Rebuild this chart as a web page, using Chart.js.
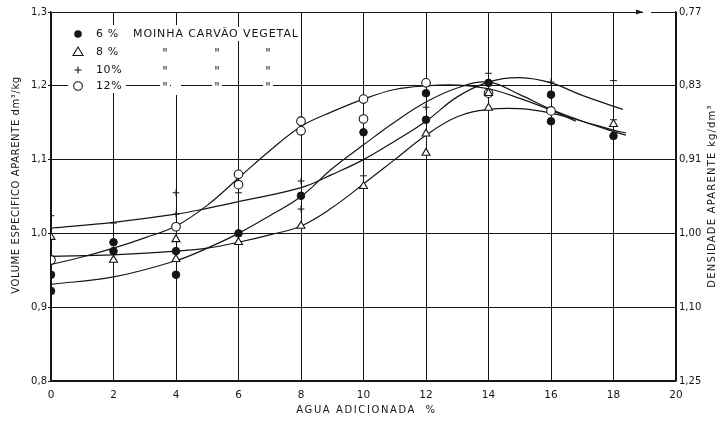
<!DOCTYPE html>
<html><head><meta charset="utf-8">
<script src="https://cdn.jsdelivr.net/npm/chart.js@4.4.1/dist/chart.umd.min.js"></script>
<style>html,body{margin:0;padding:0;background:#fff}#wrap{width:722px;height:421px}</style>
</head><body><div id="wrap"><canvas id="c" width="722" height="421"></canvas></div>
<script>
// ---- data ----
const xTicks = [0,2,4,6,8,10,12,14,16,18,20];
const yLeftTicks = [0.8,0.9,1.0,1.1,1.2,1.3];
const yLeftLabels = ['0,8','0,9','1,0','1,1','1,2','1,3'];
const yRightLabels = ['1,25','1,10','1,00','0,91','0,83','0,77'];

const seriesNames = ['6 %','8 %','10%','12%'];

// measured points (x = água adicionada %, y = volume específico)
const pts6x = [0,0,2,2,4,4,6,8,10,12,12,14,16,16,18];
const pts6y = [0.944,0.922,0.988,0.976,0.976,0.944,1.000,1.051,1.137,1.190,1.154,1.204,1.188,1.152,1.132];
const pts8x = [0,2,4,4,6,8,10,12,12,14,14,18];
const pts8y = [0.995,0.964,0.992,0.965,0.988,1.010,1.064,1.135,1.109,1.190,1.170,1.148];
const pts10x = [0,2,4,4,6,8,8,10,12,14,16,18,18];
const pts10y = [1.024,1.014,1.055,1.026,1.055,1.071,1.033,1.078,1.171,1.217,1.205,1.207,1.154];
const pts12x = [0,4,6,6,8,8,10,10,12,14,16];
const pts12y = [0.964,1.009,1.080,1.066,1.152,1.139,1.182,1.155,1.204,1.190,1.166];

// hand-drawn fitted curves
const crv6x = [0,2,4,5,6,7,8,9,10,11,12,13,14,15,16,17,18,18.4];
const crv6y = [0.931,0.941,0.963,0.980,1.000,1.024,1.050,1.088,1.120,1.151,1.178,1.197,1.205,1.188,1.168,1.152,1.138,1.133];
const crv8x = [0,2,4,5,6,7,8,9,10,11,12,13,14,15,16,17,18,18.4];
const crv8y = [0.969,0.971,0.976,0.980,0.988,0.998,1.010,1.035,1.067,1.100,1.133,1.158,1.168,1.169,1.163,1.152,1.140,1.136];
const crv10x = [0,2,4,5,6,8,9,10,11,12,13,14,15,16,17,18.3];
const crv10y = [1.007,1.015,1.026,1.034,1.043,1.062,1.080,1.100,1.125,1.152,1.185,1.205,1.211,1.204,1.187,1.168];
const crv12x = [0,1,2,3,4,5,6,7,8,9,10,11,12,13,14,15,16,16.8];
const crv12y = [0.958,0.968,0.980,0.994,1.010,1.038,1.075,1.112,1.145,1.165,1.182,1.195,1.200,1.201,1.196,1.183,1.167,1.152];

const zip = (xs, ys) => xs.map((x, i) => ({x, y: ys[i]}));
const INK = '#151515';
const FONT = "'DejaVu Sans', sans-serif";

function curve(xs, ys) {
  return {type:'line', data: zip(xs, ys), borderColor: INK, borderWidth: 1.2,
    pointRadius: 0, tension: 0.4, fill: false, order: 2};
}
function pts(xs, ys, style, filled, r, bw) {
  return {type:'scatter', data: zip(xs, ys), pointStyle: style, pointRadius: r,
    pointBackgroundColor: filled ? INK : '#fff', pointBorderColor: INK,
    pointBorderWidth: bw, showLine: false, order: 1};
}

const deco = {
  id: 'deco',
  afterDraw(chart) {
    const ctx = chart.ctx;
    const ca = chart.chartArea;
    ctx.save();
    ctx.fillStyle = INK; ctx.strokeStyle = INK;
    // top-right arrow in border
    ctx.fillStyle = '#fff';
    ctx.fillRect(643, ca.top - 3, 8, 6);
    ctx.fillStyle = INK;
    ctx.beginPath(); ctx.moveTo(643, ca.top); ctx.lineTo(636, ca.top - 2.5); ctx.lineTo(636, ca.top + 2.5); ctx.closePath(); ctx.fill();

    // axis titles
    ctx.textBaseline = 'middle'; ctx.textAlign = 'center';
    ctx.font = `10px ${FONT}`;
    ctx.letterSpacing = '1.6px';
    ctx.fillText('AGUA ADICIONADA  %', (ca.left + ca.right) / 2 + 3, 410);
    ctx.letterSpacing = '0.6px';
    ctx.save(); ctx.translate(16, 185); ctx.rotate(-Math.PI / 2);
    ctx.fillText('VOLUME ESPECIFICO APARENTE dm³/kg', 0, 0); ctx.restore();
    ctx.letterSpacing = '1.2px';
    ctx.save(); ctx.translate(712, 196); ctx.rotate(-Math.PI / 2);
    ctx.fillText('DENSIDADE APARENTE kg/dm³', 0, 0); ctx.restore();

    // legend (inside plot, top-left)
    const rows = [34, 52, 70, 86];
    ctx.fillStyle = '#fff';
    ctx.fillRect(68, 25, 58, 68);
    ctx.fillRect(126, 27, 172, 14);
    ctx.fillRect(171, 25, 10, 70);
    [165, 217, 268].forEach(x => { ctx.fillRect(x - 7, 45, 14, 32); ctx.fillRect(x - 5, 80, 10, 12); });
    ctx.fillStyle = INK;
    const sx = 78;
    ctx.lineWidth = 1.1;
    ctx.beginPath(); ctx.arc(sx, rows[0], 3.8, 0, Math.PI * 2); ctx.fill();
    ctx.beginPath(); ctx.moveTo(sx, rows[1] - 5); ctx.lineTo(sx + 5, rows[1] + 3.5); ctx.lineTo(sx - 5, rows[1] + 3.5); ctx.closePath(); ctx.stroke();
    ctx.beginPath(); ctx.moveTo(sx - 3.5, rows[2]); ctx.lineTo(sx + 3.5, rows[2]); ctx.moveTo(sx, rows[2] - 3.5); ctx.lineTo(sx, rows[2] + 3.5); ctx.stroke();
    ctx.beginPath(); ctx.arc(sx, rows[3], 4.3, 0, Math.PI * 2); ctx.stroke();
    ctx.textAlign = 'left';
    ctx.font = `11px ${FONT}`;
    ctx.letterSpacing = '0.6px';
    seriesNames.forEach((n, i) => ctx.fillText(n, 96, rows[i] + 0.5));
    ctx.letterSpacing = '0.9px';
    ctx.fillText('MOINHA CARVÃO VEGETAL', 133, rows[0] + 0.5);
    ctx.letterSpacing = '0px';
    ctx.textAlign = 'center';
    ctx.font = `12px ${FONT}`;
    for (let r = 1; r < 4; r++) {
      [165, 217, 268].forEach(x => ctx.fillText('"', x, rows[r] + 2));
    }
    ctx.restore();
  }
};

new Chart(document.getElementById('c'), {
  data: {
    datasets: [
      curve(crv6x, crv6y), curve(crv8x, crv8y), curve(crv10x, crv10y), curve(crv12x, crv12y),
      pts(pts6x, pts6y, 'circle', true, 3.8, 1),
      pts(pts8x, pts8y, 'triangle', false, 4.6, 1.1),
      pts(pts10x, pts10y, 'cross', false, 3.4, 1),
      pts(pts12x, pts12y, 'circle', false, 4.3, 1.1)
    ]
  },
  options: {
    responsive: false, animation: false, devicePixelRatio: 1,
    layout: {padding: {top: 12, left: 0, right: 0, bottom: 0}},
    plugins: {legend: {display: false}, title: {display: false}, tooltip: {enabled: false}},
    scales: {
      x: {
        type: 'linear', min: 0, max: 20,
        afterBuildTicks: s => { s.ticks = xTicks.map(v => ({value: v})); },
        afterFit: s => { s.height = 40; },
        grid: {color: INK, lineWidth: 1, drawTicks: false},
        border: {color: INK, width: 1.3},
        ticks: {color: INK, padding: 8, maxRotation: 0, font: {family: FONT, size: 10.5}, callback: v => String(v)}
      },
      y: {
        type: 'linear', position: 'left', min: 0.8, max: 1.3,
        afterBuildTicks: s => { s.ticks = yLeftTicks.map(v => ({value: v})); },
        afterFit: s => { s.width = 51; },
        grid: {color: INK, lineWidth: 1, drawTicks: true, tickLength: 3},
        border: {color: INK, width: 1.3},
        ticks: {color: INK, padding: 1, font: {family: FONT, size: 10},
          callback: (v) => yLeftLabels[yLeftTicks.findIndex(t => Math.abs(t - v) < 1e-6)]}
      },
      y2: {
        type: 'linear', position: 'right', min: 0.8, max: 1.3,
        afterBuildTicks: s => { s.ticks = yLeftTicks.map(v => ({value: v})); },
        afterFit: s => { s.width = 46; },
        grid: {display: false, drawTicks: false},
        border: {color: INK, width: 1.3},
        ticks: {color: INK, padding: 3, font: {family: FONT, size: 10},
          callback: (v) => yRightLabels[yLeftTicks.findIndex(t => Math.abs(t - v) < 1e-6)]}
      }
    }
  },
  plugins: [deco]
});
</script></body></html>
